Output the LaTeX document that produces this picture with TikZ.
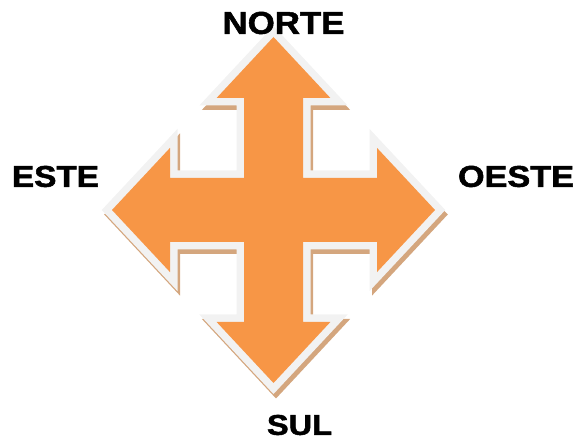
\documentclass[tikz,border=0pt]{standalone}
\usepackage{fontspec}
\setmainfont{Liberation Sans}
\newfontfamily\labelfont[FakeBold=1.6]{Liberation Sans Bold}
\definecolor{arroworange}{HTML}{F79646}
\definecolor{rimgrey}{HTML}{F2F2F2}
\definecolor{shadowtan}{RGB}{212,166,126}
\tikzset{
  lbl/.style={inner sep=0pt, outer sep=0pt, anchor=center, font=\labelfont},
}
\newcommand{\quadpath}{%
  (0,173) -- (56.9,112) -- (29.5,112) -- (29.5,32) -- (103.5,32) -- (103.5,62.1)
  -- (161.5,0) -- (103.5,-62.1) -- (103.5,-32) -- (29.5,-32) -- (29.5,-112)
  -- (56.9,-112) -- (0,-173) -- (-56.9,-112) -- (-29.5,-112) -- (-29.5,-32)
  -- (-103.5,-32) -- (-103.5,-62.1) -- (-161.5,0) -- (-103.5,62.1)
  -- (-103.5,32) -- (-29.5,32) -- (-29.5,112) -- (-56.9,112) -- cycle}
\begin{document}
\begin{tikzpicture}[x=1pt,y=1pt]
\useasboundingbox (0,0) rectangle (578,441);
% shadow
\begin{scope}[shift={(276,226.5)}]
  \filldraw[shadowtan, line width=15pt, line join=miter] \quadpath;
\end{scope}
% rim and body
\begin{scope}[shift={(273.5,231)}]
  \draw[rimgrey, line width=15pt, line join=miter] \quadpath;
  \fill[arroworange] \quadpath;
\end{scope}
\node[lbl] (norte) at (283.5,418) {\resizebox{122pt}{22pt}{NORTE}};
\node[lbl] (sul) at (299.5,16) {\resizebox{65pt}{20pt}{SUL}};
\node[lbl] (este) at (55.5,264.5) {\resizebox{87pt}{21pt}{ESTE}};
\node[lbl] (oeste) at (516,264.5) {\resizebox{116pt}{21pt}{OESTE}};
\end{tikzpicture}
\end{document}
